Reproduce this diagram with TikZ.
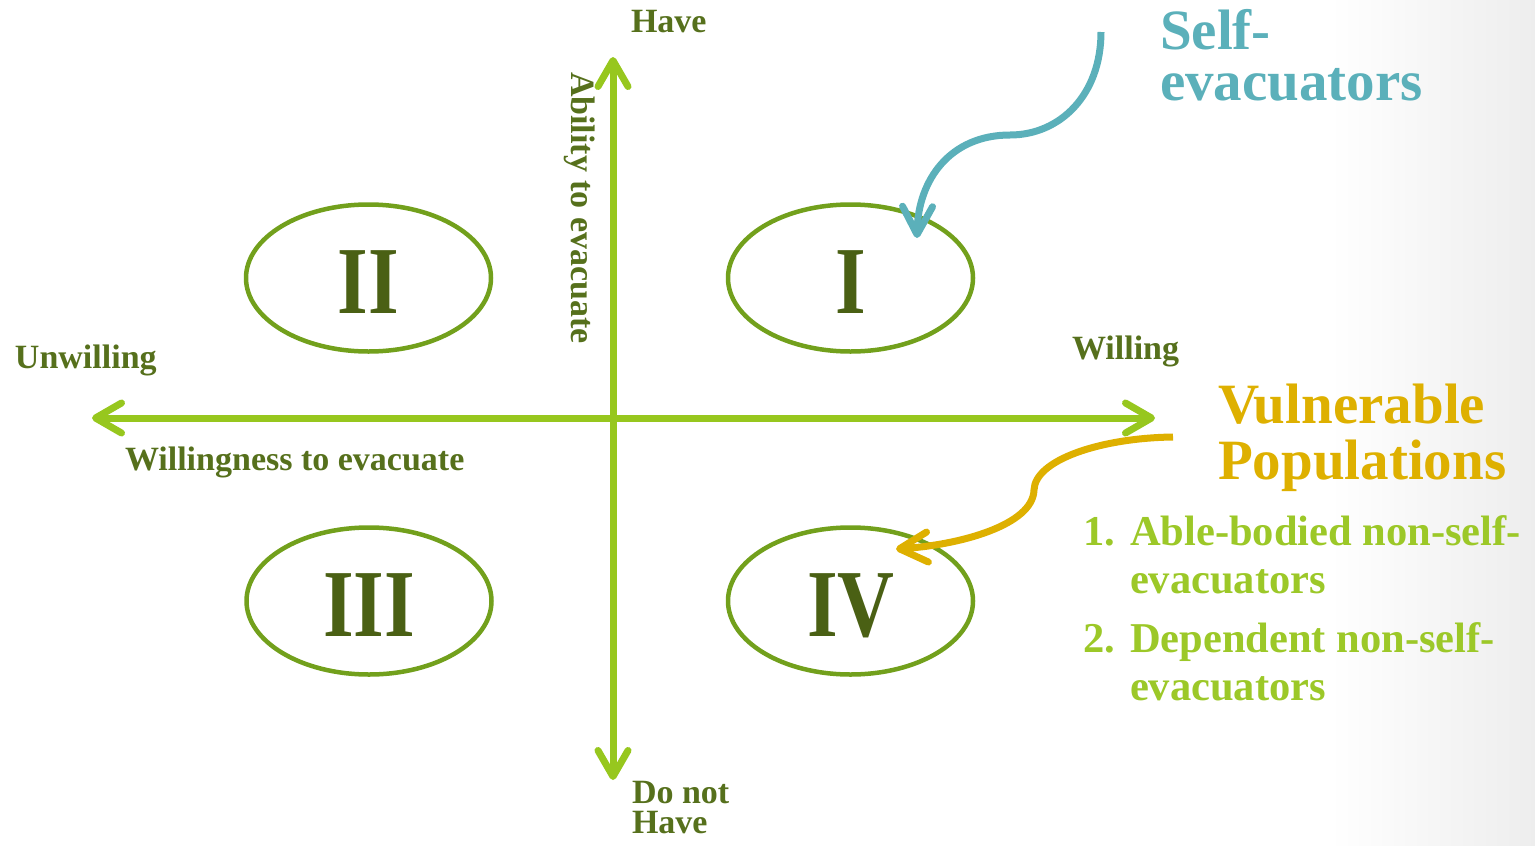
\documentclass[tikz,border=0pt]{standalone}
\usepackage{fontspec}
\setmainfont{Liberation Serif}
\usetikzlibrary{arrows.meta,shapes.geometric}
\definecolor{axisgreen}{HTML}{97C71E}
\definecolor{ellgreen}{HTML}{72A01C}
\definecolor{numgreen}{HTML}{4A6014}
\definecolor{lblgreen}{HTML}{56701C}
\definecolor{tealc}{HTML}{5BB0BA}
\definecolor{goldc}{HTML}{DEB000}
\definecolor{listgreen}{HTML}{9CC828}
\newcommand\lblfont{\fontsize{34}{38}\selectfont\bfseries}
\newcommand\numfont{\fontsize{96}{100}\selectfont\bfseries}
\newcommand\headfont{\fontsize{57}{60}\selectfont\bfseries}
\newcommand\vulfont{\fontsize{57}{60}\selectfont\bfseries}
\newcommand\itemfont{\fontsize{42.5}{46}\selectfont\bfseries}
\newcommand\twolines[3]{\vtop{\baselineskip=#1\lineskiplimit=-100pt\hbox{#2}\hbox{#3}}}
\tikzset{
  barbtip/.tip={Straight Barb[length=26pt,width=30pt,line cap=round,line join=round]},
  smalltip/.tip={Straight Barb[length=28pt,width=30pt,line cap=round,line join=round]},
  axisline/.style={draw=axisgreen,line width=7pt,{barbtip}-{barbtip}},
  ell/.style={ellipse,draw=ellgreen,line width=4.5pt,minimum width=245pt,minimum height=147pt},
  numeral/.style={anchor=base,text=numgreen,font=\numfont},
  lbl/.style={anchor=base west,text=lblgreen,font=\lblfont},
  headteal/.style={anchor=base west,text=tealc,font=\headfont},
  headgold/.style={anchor=base west,text=goldc,font=\vulfont},
  itemtxt/.style={anchor=base west,text=listgreen,font=\itemfont},
  curveteal/.style={draw=tealc,line width=7pt,-{smalltip}},
  curvegold/.style={draw=goldc,line width=7pt,-{smalltip}},
}
\begin{document}
\begin{tikzpicture}[x=1pt,y=-1pt,every node/.style={inner sep=0pt,outer sep=0pt}]
\useasboundingbox (0,0) rectangle (1535,846);
\shade[left color=white,right color=black!7] (1330,0) rectangle (1535,846);

% axes
\coordinate (L) at (92,418);
\coordinate (R) at (1155,418);
\coordinate (T) at (613,57);
\coordinate (B) at (613,780);
\draw[axisline] (L) -- (R);
\draw[axisline] (B) -- (T);

% quadrants
\node[ell] (q2) at (368.5,278) {};
\node[ell] (q1) at (850.5,278) {};
\node[ell] (q3) at (369,601) {};
\node[ell] (q4) at (850.5,601) {};
\node[numeral] (n2) at (368.5,313) {\scalebox{0.82}[1]{II}};
\node[numeral] (n1) at (850.5,313) {\scalebox{0.82}[1]{I}};
\node[numeral] (n3) at (369,636) {\scalebox{0.82}[1]{III}};
\node[numeral] (n4) at (851,636) {\scalebox{0.82}[1]{IV}};

% axis labels
\node[lbl] (have) at (631,32) {Have};
\node[lbl,rotate=-90] (ability) at (571,72) {Ability to evacuate};
\node[lbl] (unw) at (15,368) {Unwilling};
\node[lbl] (will) at (1072,359) {Willing};
\node[lbl] (wte) at (125,470) {Willingness to evacuate};
\node[lbl] (donot) at (632,803) {\twolines{30pt}{Do not}{Have}};

% self-evacuators
\node[headteal] (self) at (1160,49) {\twolines{51pt}{Self-}{evacuators}};
\coordinate (ts) at (1101,32);
\coordinate (te) at (917,238);
\draw[curveteal] (ts) .. controls (1101,95) and (1060,135) .. (1010,135)
  .. controls (950,135) and (918,180) .. (te);

% vulnerable populations
\node[headgold] (vul) at (1218,423) {\twolines{56pt}{Vulnerable}{Populations}};
\coordinate (gs) at (1173,437);
\coordinate (ge) at (896,549);
\draw[curvegold] (gs) .. controls (1100,438) and (1035,460) .. (1034,490)
  .. controls (1033,525) and (960,545) .. (ge);

% list
\node[itemtxt] (num1) at (1083,545) {1.};
\node[itemtxt] (it1) at (1130,545) {\twolines{48pt}{Able-bodied non-self-}{evacuators}};
\node[itemtxt] (num2) at (1083,652) {2.};
\node[itemtxt] (it2) at (1130,652) {\twolines{48pt}{Dependent non-self-}{evacuators}};
\end{tikzpicture}
\end{document}
